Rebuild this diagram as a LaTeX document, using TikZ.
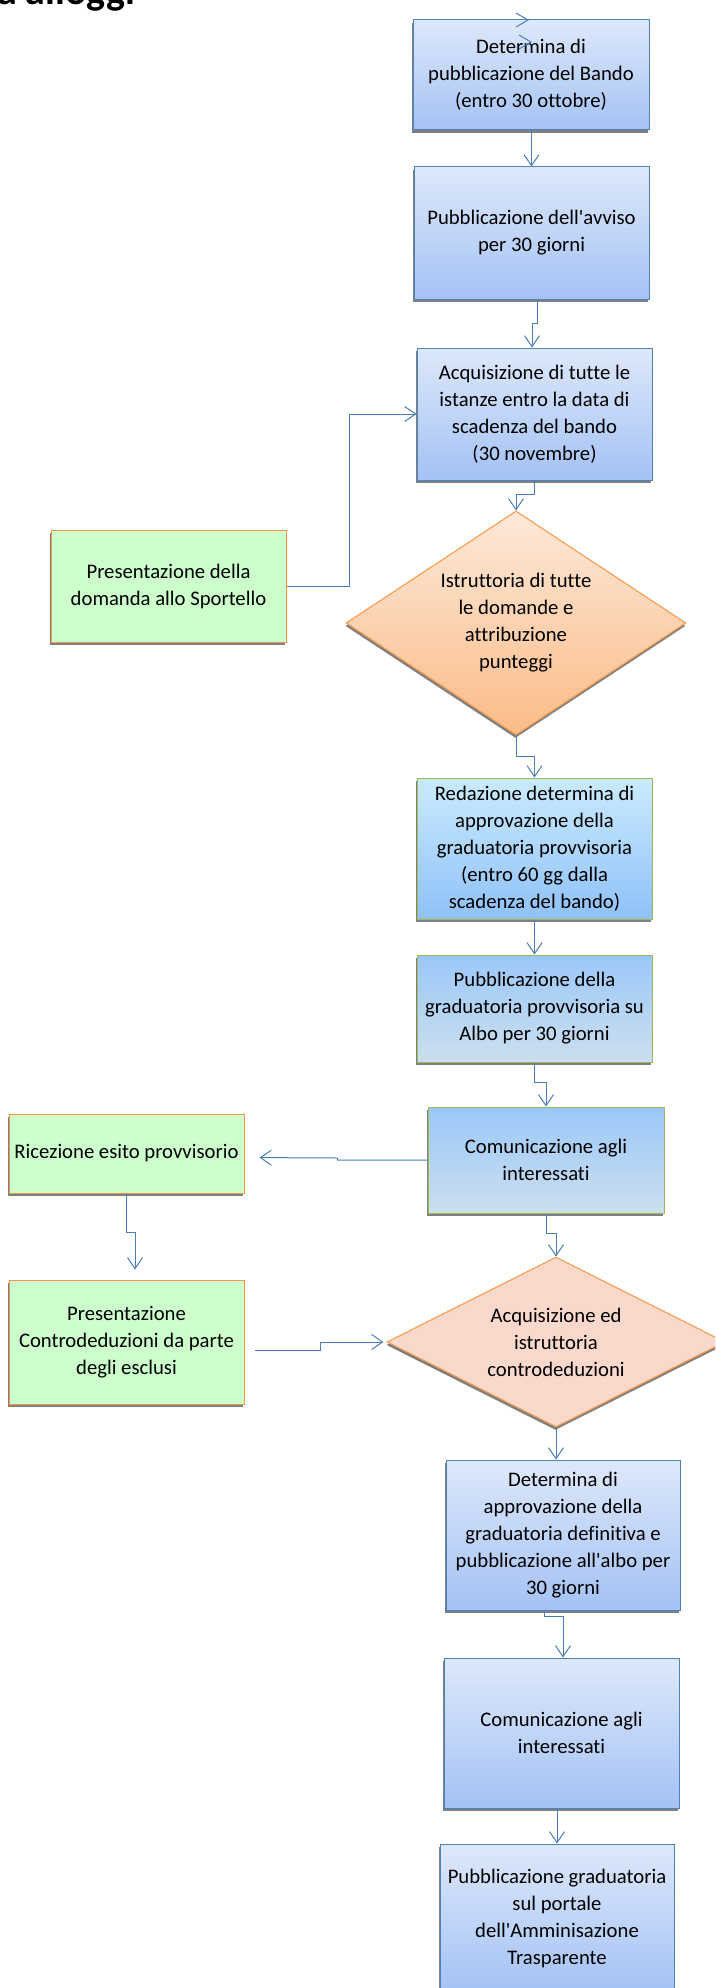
\documentclass[tikz,border=0pt]{standalone}
\usepackage{fontspec}
\setmainfont{Carlito}[Ligatures={NoCommon}]
\usetikzlibrary{shapes.geometric,arrows.meta,shadows,calc}
\definecolor{connc}{HTML}{4A7EBB}
\definecolor{bluebd}{HTML}{4F81BD}
\definecolor{bluetop}{HTML}{DDE8FB}
\definecolor{bluebot}{HTML}{A4C2F4}
\definecolor{greenbd}{HTML}{9BBB59}
\definecolor{redtop}{HTML}{CAEBFE}
\definecolor{redbot}{HTML}{8FC1F8}
\definecolor{midblue}{HTML}{9BC8F9}
\definecolor{paleblue}{HTML}{CCDFEF}
\definecolor{orangebd}{HTML}{F79646}
\definecolor{lgreen}{HTML}{CCFFCC}
\definecolor{peachtop}{HTML}{FDE9D9}
\definecolor{peachbot}{HTML}{FBBC88}
\definecolor{salmon}{HTML}{FAD9CC}
\begin{document}
\begin{tikzpicture}[x=1pt,y=-1pt,
  every node/.style={font=\fontsize{20.7}{27}\selectfont, align=center, inner sep=0pt},
  conn/.style={draw=connc, line width=1pt, -{Straight Barb[length=11pt,width=15pt]}},
  shad/.style={drop shadow={shadow xshift=-0.6pt, shadow yshift=-3pt, fill=black!50, opacity=1}},
  boxbase/.style={rectangle, line width=1pt, shad},
  bluebox/.style={boxbase, draw=bluebd, top color=bluetop, bottom color=bluebot},
  cyanbox/.style={boxbase, draw=greenbd, top color=redtop, bottom color=redbot},
  fadebox/.style={boxbase, draw=greenbd, top color=midblue, bottom color=paleblue},
  greenbox/.style={boxbase, draw=orangebd, fill=lgreen},
  peachdiam/.style={diamond, line width=1pt, shad, draw=orangebd, top color=peachtop, bottom color=peachbot},
  salmondiam/.style={diamond, line width=1pt, shad, draw=orangebd, fill=salmon},
  chev/.style={draw=connc, line width=1pt}
]
\useasboundingbox (0,0) rectangle (715,1988);
\clip (0,0) rectangle (715,1988);

% title (cut at top)
\node[anchor=base west, font=\fontsize{40}{40}\selectfont\bfseries] (title) at (-3,5) {a alloggi};

% nodes
\node[bluebox, minimum width=236pt, minimum height=110pt] (b1) at (531,75)
  {Determina di\\pubblicazione del Bando\\(entro 30 ottobre)};
\node[bluebox, minimum width=235pt, minimum height=132pt] (b2) at (531.5,233)
  {Pubblicazione dell\textquotesingle avviso\\per 30 giorni};
\node[bluebox, minimum width=235pt, minimum height=132pt] (b3) at (534.5,414)
  {Acquisizione di tutte le\\istanze entro la data di\\scadenza del bando\\(30 novembre)};
\node[greenbox, minimum width=235pt, minimum height=112pt] (g1) at (168.5,586)
  {Presentazione della\\domanda allo Sportello};
\node[peachdiam, minimum width=340pt, minimum height=224pt, aspect=1.52] (d1) at (516,623)
  {Istruttoria di tutte\\le domande e\\attribuzione\\punteggi};
\node[cyanbox, minimum width=235pt, minimum height=141pt] (b4) at (534.5,848.5)
  {Redazione determina di\\approvazione della\\graduatoria provvisoria\\(entro 60 gg dalla\\scadenza del bando)};
\node[fadebox, minimum width=235pt, minimum height=107pt] (b5) at (534.5,1008.5)
  {Pubblicazione della\\graduatoria provvisoria su\\Albo per 30 giorni};
\node[fadebox, minimum width=236pt, minimum height=106pt] (b6) at (546,1160)
  {Comunicazione agli\\interessati};
\node[greenbox, minimum width=235pt, minimum height=79pt] (g2) at (126.5,1153.5)
  {Ricezione esito provvisorio};
\node[greenbox, minimum width=235pt, minimum height=124pt] (g3) at (126.5,1342)
  {Presentazione\\Controdeduzioni da parte\\degli esclusi};
\node[salmondiam, minimum width=338pt, minimum height=170pt, aspect=2] (d2) at (556,1342)
  {Acquisizione ed\\istruttoria\\controdeduzioni};
\node[bluebox, minimum width=234pt, minimum height=150pt] (b7) at (563,1535)
  {Determina di\\approvazione della\\graduatoria definitiva e\\pubblicazione all\textquotesingle albo per\\30 giorni};
\node[bluebox, minimum width=235pt, minimum height=150pt] (b8) at (561.5,1733)
  {Comunicazione agli\\interessati};
\node[bluebox, minimum width=234pt, minimum height=148pt] (b9) at (557,1918)
  {Pubblicazione graduatoria\\sul portale\\dell\textquotesingle Amminisazione\\Trasparente};

% stray arrow heads at the top of the first box
\draw[chev] (516,13) -- (528,20) -- (516,27);
\draw[chev] (519,35) -- (531,42) -- (519,49);

% connectors
\draw[conn] (b1.south) -- ++(0,9) -| (b2.north);
\draw[conn] ([xshift=5.5pt]b2.south) -- ++(0,24) -| ([xshift=-2.5pt]b3.north);
\draw[conn] (g1.east) -- (349,586) |- (b3.west);
\draw[conn] (b3.south) -- ++(0,14) -| (d1.north);
\draw[conn] (d1.south) -- ++(0,21) -| (b4.north);
\draw[conn] (b4.south) -- (b5.north);
\draw[conn] (b5.south) -- ++(0,20) -| (b6.north);
\draw[conn, shorten >=15pt] (b6.west) -- ++(-90,0) -- ++(0,-2) -- ([yshift=-4pt]g2.east);
\draw[conn, shorten >=10pt] (g2.south) -- ++(0,39) -| ([xshift=8.5pt]g3.north);
\draw[conn, shorten >=3pt] ([xshift=10pt,yshift=-8pt]g3.east) -- ++(66,0) |- (d2.west);
\draw[conn] (b6.south) -- ++(0,20) -| (d2.north);
\draw[conn] (d2.south) -- (d2.south |- b7.north);
\draw[conn] ([xshift=-19pt]b7.south) -- ++(0,6) -| ([xshift=1.5pt]b8.north);
\draw[conn] ([xshift=-4.5pt]b8.south) -- (b9.north);
\end{tikzpicture}
\end{document}
